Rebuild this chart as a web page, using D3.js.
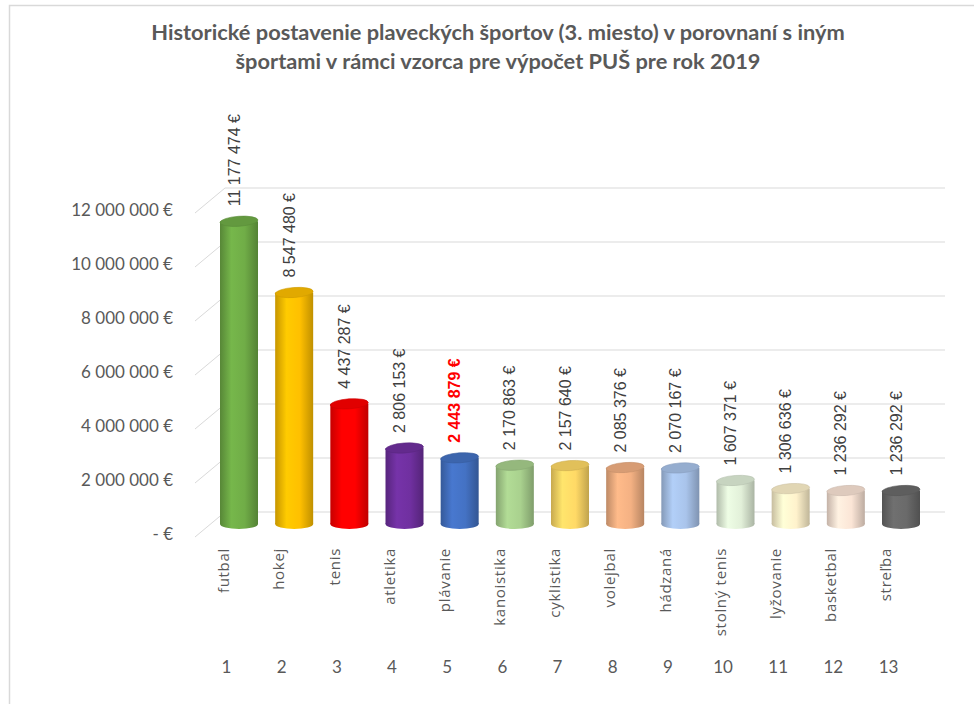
<!DOCTYPE html>
<html>
<head>
<meta charset="utf-8">
<script src="https://cdn.jsdelivr.net/npm/d3@7"></script>
<style>
  body { margin: 0; background: #fff; }
  svg { display: block; }
</style>
</head>
<body>
<svg id="chart" width="974" height="704"></svg>
<script>
// données
const categories = ["futbal", "hokej", "tenis", "atletika", "plávanie", "kanoistika", "cyklistika",
  "volejbal", "hádzaná", "stolný tenis", "lyžovanie", "basketbal", "streľba"];
const ranks = ["1", "2", "3", "4", "5", "6", "7", "8", "9", "10", "11", "12", "13"];
const values = [11177474, 8547480, 4437287, 2806153, 2443879, 2170863, 2157640,
  2085376, 2070167, 1607371, 1306636, 1236292, 1236292];
const colors = ["#70AD47", "#FFC000", "#FF0000", "#7030A0", "#4472C4", "#A9D18E", "#FFD966",
  "#F4B183", "#A9C4EB", "#E2F0D9", "#FFF2CC", "#FBE5D6", "#6A6A6A"];
const yTicks = [0, 2000000, 4000000, 6000000, 8000000, 10000000, 12000000];
const highlight = "plávanie";

const titleLines = ["Historické postavenie plaveckých športov (3. miesto) v porovnaní s iným",
  "športami v rámci vzorca pre výpočet PUŠ pre rok 2019"];

const svg = d3.select("#chart");

// format avec espaces pour les milliers
const locale = d3.formatLocale({ decimal: ",", thousands: " ", grouping: [3], currency: ["", " €"] });
const fmt = locale.format("$,.0f");

// cadre du graphique
svg.append("path")
  .attr("d", "M9.5,704 V5.5 H974")
  .attr("fill", "none")
  .attr("stroke", "#d9d9d9")
  .attr("stroke-width", 1.5);

// titre
svg.append("text")
  .attr("x", 498)
  .attr("y", 40)
  .attr("text-anchor", "middle")
  .attr("font-family", "Lato, 'Open Sans', sans-serif")
  .attr("font-weight", "bold")
  .attr("font-size", 21.8)
  .attr("fill", "#595959")
  .selectAll("tspan")
  .data(titleLines)
  .join("tspan")
  .attr("x", 498)
  .attr("dy", (d, i) => i === 0 ? 0 : 29)
  .text(d => d);

// échelles
const x = d3.scalePoint().domain(categories).range([239, 901]);
const y = d3.scaleLinear().domain([0, 12000000]).range([512, 188]);     // paroi du fond
const yBar = d3.scaleLinear().domain([0, 12000000]).range([524, 199]);  // plan des barres

// grille : fond + lignes obliques sur le côté
const grid = svg.append("g").attr("stroke", "#d9d9d9").attr("stroke-width", 1);
grid.selectAll(".back")
  .data(yTicks)
  .join("line")
  .attr("x1", 225).attr("x2", 945)
  .attr("y1", d => y(d)).attr("y2", d => y(d));
grid.selectAll(".side")
  .data(yTicks)
  .join("line")
  .attr("x1", 195).attr("x2", 225)
  .attr("y1", d => y(d) + 25).attr("y2", d => y(d));

// axe y
const yAxis = svg.append("g")
  .attr("transform", "translate(173, 22)")
  .call(d3.axisLeft(y).tickValues(yTicks).tickSize(0).tickPadding(0)
    .tickFormat(d => d === 0 ? "- €" : fmt(d)));
yAxis.select(".domain").remove();
yAxis.selectAll("text")
  .attr("font-family", "Lato, sans-serif")
  .attr("font-size", 17)
  .attr("fill", "#595959");

// dégradés pour les cylindres
const defs = svg.append("defs");
colors.forEach(function(c, i) {
  const base = d3.color(c);
  const g = defs.append("linearGradient")
    .attr("id", "grad" + i)
    .attr("x1", "0%").attr("x2", "100%").attr("y1", "0%").attr("y2", "0%");
  g.append("stop").attr("offset", "0%").attr("stop-color", base.darker(0.7));
  g.append("stop").attr("offset", "30%").attr("stop-color", base.brighter(0.15));
  g.append("stop").attr("offset", "65%").attr("stop-color", base);
  g.append("stop").attr("offset", "100%").attr("stop-color", base.darker(0.8));
});

const barW = 38;
const ry = 5;

// barres cylindriques
const bars = svg.append("g")
  .selectAll("g")
  .data(values)
  .join("g");

bars.append("ellipse")
  .attr("cx", (d, i) => x(categories[i]))
  .attr("cy", yBar(0))
  .attr("rx", barW / 2)
  .attr("ry", ry)
  .attr("fill", (d, i) => "url(#grad" + i + ")");

bars.append("rect")
  .attr("x", (d, i) => x(categories[i]) - barW / 2)
  .attr("y", d => yBar(d))
  .attr("width", barW)
  .attr("height", d => yBar(0) - yBar(d))
  .attr("fill", (d, i) => "url(#grad" + i + ")");

bars.append("ellipse")
  .attr("cx", (d, i) => x(categories[i]))
  .attr("cy", d => yBar(d))
  .attr("rx", barW / 2)
  .attr("ry", ry)
  .attr("transform", (d, i) => "rotate(-4," + x(categories[i]) + "," + yBar(d) + ")")
  .attr("fill", (d, i) => d3.color(colors[i]).darker(0.35))
  .attr("stroke", (d, i) => d3.color(colors[i]).darker(0.6))
  .attr("stroke-width", 0.6);

// étiquettes de valeurs
svg.append("g")
  .selectAll("text")
  .data(values)
  .join("text")
  .attr("transform", (d, i) => "translate(" + (x(categories[i]) - 5) + "," + (yBar(d) - 15) + ") rotate(-90)")
  .attr("dy", "0.35em")
  .attr("font-family", "'Liberation Sans', Arial, sans-serif")
  .attr("font-size", 16)
  .attr("font-weight", (d, i) => categories[i] === highlight ? "bold" : "normal")
  .attr("fill", (d, i) => categories[i] === highlight ? "#FF0000" : "#404040")
  .text(d => fmt(d));

// noms des sports
svg.append("g")
  .selectAll("text")
  .data(categories)
  .join("text")
  .attr("transform", d => "translate(" + (x(d) - 15) + ",548) rotate(-90)")
  .attr("text-anchor", "end")
  .attr("dy", "0.35em")
  .attr("font-family", "'Open Sans', sans-serif")
  .attr("font-size", 15)
  .attr("letter-spacing", 0.7)
  .attr("fill", "#595959")
  .text(d => d);

// rangs
const xAxis = svg.append("g")
  .attr("transform", "translate(-13, 661)")
  .call(d3.axisBottom(x).tickSize(0).tickPadding(0).tickFormat((d, i) => ranks[i]));
xAxis.select(".domain").remove();
xAxis.selectAll("text")
  .attr("font-family", "Lato, sans-serif")
  .attr("font-size", 17)
  .attr("fill", "#595959");
</script>
</body>
</html>
